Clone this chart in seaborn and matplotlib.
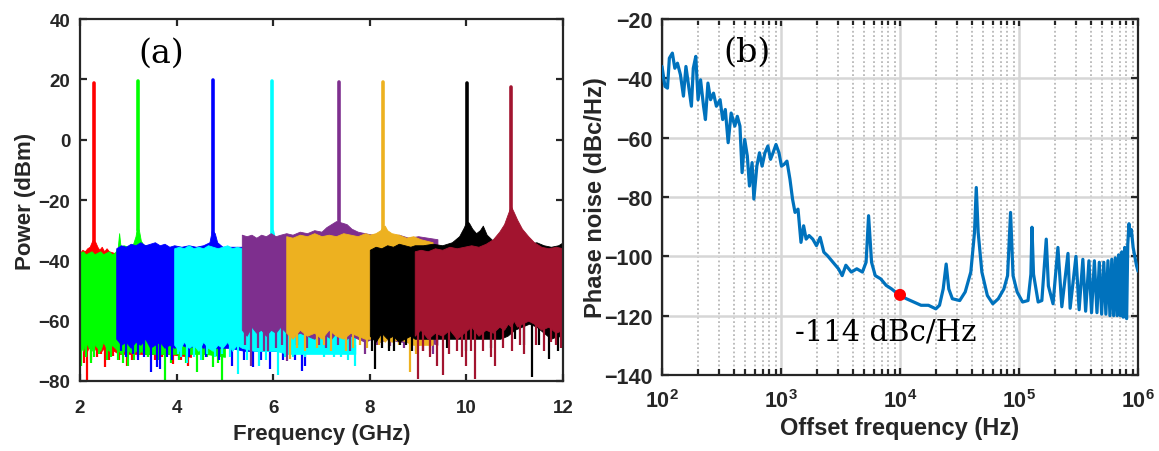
import numpy as np
import pandas as pd
import matplotlib
matplotlib.use("Agg")
import matplotlib.pyplot as plt
import seaborn as sns
from matplotlib.ticker import FixedLocator, FixedFormatter, NullFormatter

# ---------------- data: panel (a) ----------------
SERIES_COLORS = ["#FF0000", "#00FF00", "#0000FF", "#00FFFF",
                 "#7E2F8E", "#EDB120", "#000000", "#A2142F"]

PEAK_FREQ = [2.28, 3.20, 4.76, 5.98, 7.36, 8.28, 10.02, 10.92]
PEAK_TOP = [18.8, 19.3, 19.9, 19.5, 19.0, 19.0, 18.8, 17.6]
PEAK_BASE = [-34, -30, -31, -31, -28, -30, -28, -24]

red_f = [2.00, 2.05, 2.10, 2.15, 2.20, 2.24, 2.27, 2.29, 2.32, 2.36, 2.40, 2.45, 2.50, 2.55, 2.60, 2.70, 2.80, 3.00, 3.40, 3.80, 4.30]
red_hi = [-37.5, -36.5, -37, -36, -35.5, -34, -33, -33.5, -34, -35.5, -36.5, -35.5, -37, -36, -37, -37.5, -37.5, -37.5, -38, -38, -38]
red_lo = [-66, -69, -67, -70, -68, -69, -68, -70, -69, -70, -68, -70, -69, -71, -70, -70, -71, -71, -71, -71, -72]
red_dip_f = [2.03, 2.09, 2.14, 2.22, 2.35, 2.44, 2.52, 2.60, 2.69, 2.80, 2.97, 3.08, 3.21, 3.40, 3.55, 3.70, 3.93, 4.10, 4.24]
red_dip_y = [-70, -74, -80, -73, -72, -71, -75.5, -73, -71.6, -73, -75, -73, -72, -72, -73, -72, -74.4, -73, -75]

green_f = [2.00, 2.06, 2.12, 2.18, 2.24, 2.30, 2.36, 2.42, 2.48, 2.54, 2.60, 2.66, 2.72, 2.78, 2.81, 2.84, 2.90, 3.00, 3.10, 3.15, 3.18, 3.22, 3.26, 3.32, 3.50, 3.80, 4.20, 4.60, 5.00]
green_hi = [-37.5, -37, -38, -37.5, -37, -38, -37.5, -37, -38, -37.5, -37, -38, -37.5, -36, -31, -35.5, -35, -35.5, -34.5, -32, -29, -30, -33.5, -35, -35, -36, -36, -36.5, -37]
green_lo = [-68, -70, -67, -69, -70, -68, -69, -70, -67, -69, -70, -68, -69, -70, -70, -71, -70, -70, -71, -70, -70, -71, -70, -71, -71, -71, -71, -71, -72]
green_dip_f = [2.03, 2.12, 2.22, 2.30, 2.40, 2.55, 2.65, 2.78, 2.90, 3.00, 3.12, 3.40, 3.62, 3.76, 3.88, 4.05, 4.20, 4.42, 4.55, 4.62, 4.76, 4.86, 4.95]
green_dip_y = [-75, -72, -74, -72, -71, -73, -72, -73, -74, -75, -73, -72, -73, -80, -74, -73, -74, -77, -73, -72, -75.5, -74, -80]

blue_f = [2.75, 2.85, 2.95, 3.05, 3.15, 3.25, 3.35, 3.45, 3.55, 3.65, 3.75, 3.85, 3.95, 4.10, 4.25, 4.40, 4.55, 4.68, 4.73, 4.79, 4.84, 4.95, 5.10, 5.40, 6.00, 6.70]
blue_hi = [-36, -35, -35.5, -34.5, -35, -34, -35, -34.5, -34, -35, -34.5, -35.5, -35, -35.5, -35, -35.5, -35, -34, -30, -31, -34, -35.5, -35.5, -35.5, -35, -35]
blue_lo = [-66, -68, -67, -69, -67, -68, -66, -69, -68, -67, -69, -68, -69, -68, -69, -68, -69, -68, -68, -69, -69, -69, -69, -70, -70, -70]
blue_dip_f = [2.85, 2.95, 3.10, 3.20, 3.33, 3.48, 3.59, 3.66, 3.80, 3.90, 4.25, 4.60, 4.88, 5.14, 5.40, 5.59, 5.75, 5.93, 6.20, 6.45, 6.59, 6.65]
blue_dip_y = [-70, -72, -71, -73, -72, -77, -75.5, -76, -72, -73, -72, -72, -73, -75, -73, -75.5, -73, -76, -73, -73, -76.6, -75]

cyan_f = [3.95, 4.05, 4.15, 4.25, 4.35, 4.45, 4.55, 4.65, 4.75, 4.85, 4.95, 5.05, 5.15, 5.25, 5.35, 5.60, 5.92, 5.96, 6.00, 6.05, 6.30, 7.00, 7.70]
cyan_hi = [-36, -35.5, -36, -35, -36, -35.5, -36, -35, -35.5, -36, -35.5, -35, -36, -35.5, -36, -35.5, -33, -29.5, -30, -34, -35, -35, -35.5]
cyan_lo = [-68, -70, -67, -69, -68, -70, -67, -69, -70, -68, -69, -67, -70, -68, -69, -70, -70, -70, -70, -70, -71, -71, -71]
cyan_dip_f = [4.02, 4.10, 4.22, 4.35, 4.50, 4.62, 4.80, 4.95, 5.10, 5.28, 5.45, 5.70, 5.85, 6.10, 6.25, 6.40, 6.66, 6.85, 7.05, 7.25, 7.40, 7.55, 7.69]
cyan_dip_y = [-71, -72, -74, -72, -73, -71, -72, -71, -72, -77.7, -73, -75, -73, -78, -72, -72, -72, -70, -72, -72, -72, -73, -75]

purple_f = [5.35, 5.45, 5.55, 5.65, 5.75, 5.85, 5.95, 6.05, 6.15, 6.27, 6.40, 6.55, 6.70, 6.85, 7.00, 7.10, 7.20, 7.30, 7.42, 7.52, 7.62, 7.75, 7.90, 8.05, 8.20, 8.40, 8.60, 8.80, 9.00, 9.20, 9.40]
purple_hi = [-31.5, -32, -31.5, -32.5, -31.5, -32, -31, -32, -31.5, -31, -31.5, -30.5, -31, -30, -30.5, -29, -28, -27, -27.5, -28, -29.5, -30.5, -31, -31.5, -31, -32, -31.5, -32.5, -32, -32.5, -33]
purple_lo = [-63, -65, -62, -64, -63, -65, -63, -64, -62, -64, -65, -64, -65, -66, -64, -65, -66, -64, -65, -66, -65, -66, -67, -66, -67, -66, -67, -67, -68, -67, -68]
purple_dip_f = [5.42, 5.55, 5.68, 5.80, 5.90, 6.05, 6.18, 6.28, 6.50, 6.70, 6.95, 7.10, 7.35, 7.60, 7.90, 8.15, 8.42, 8.70, 8.95, 9.10, 9.30]
purple_dip_y = [-68, -75, -69, -70, -70, -69, -68, -73.3, -68, -69, -68, -69, -68, -70, -71, -68, -68.3, -69, -70, -70, -71]

orange_f = [6.27, 6.40, 6.55, 6.70, 6.85, 7.00, 7.15, 7.30, 7.45, 7.60, 7.75, 7.90, 8.00, 8.12, 8.22, 8.26, 8.31, 8.36, 8.45, 8.60, 8.75, 8.90, 9.05, 9.30]
orange_hi = [-32, -32.5, -31.5, -32, -31, -32, -31.5, -32, -31, -31.5, -32, -31, -31.5, -31, -30, -29, -28.5, -30, -31, -31.5, -32.5, -32, -33, -34]
orange_lo = [-64, -66, -63, -65, -64, -66, -63, -65, -66, -64, -65, -66, -66, -65, -67, -66, -67, -66, -67, -66, -67, -68, -68, -68]
orange_dip_f = [6.35, 6.50, 6.65, 6.90, 7.05, 7.20, 7.50, 7.65, 7.80, 7.95, 8.20, 8.40, 8.60, 8.83, 8.95, 9.10, 9.25]
orange_dip_y = [-72.7, -69, -70, -69, -68, -70, -70, -69, -68, -69, -68, -69, -68, -77.1, -71, -68, -70]

black_f = [8.00, 8.12, 8.24, 8.36, 8.48, 8.60, 8.72, 8.84, 8.93, 9.10, 9.30, 9.50, 9.70, 9.85, 9.95, 10.00, 10.05, 10.12, 10.20, 10.28, 10.34, 10.42, 10.55, 10.70, 10.85, 11.00, 11.15, 11.30, 11.45, 11.60, 11.75, 11.90, 12.00]
black_hi = [-36.5, -35.5, -36, -35, -35.5, -34.5, -35, -35.5, -35, -35, -34.5, -35, -34, -32, -29, -27, -27.5, -29.5, -31, -30, -28.5, -31.5, -33.5, -34, -34.5, -33.5, -34, -34.5, -34, -35, -35.5, -35, -34]
black_lo = [-65, -67, -64, -66, -65, -67, -66, -65, -66, -66, -66, -66, -66, -66, -66, -66, -66, -66, -66, -66, -66, -66, -66, -66, -65, -63, -62, -61, -62, -64, -66, -65, -66]
black_dip_f = [8.05, 8.11, 8.25, 8.40, 8.50, 8.62, 8.75, 8.88, 9.60, 10.00, 10.50, 11.00, 11.20, 11.35, 11.50, 11.70, 11.90]
black_dip_y = [-70, -76, -69, -70, -70, -68, -68, -70, -69, -70, -69, -66, -68, -78.8, -68, -72.7, -70]

darkred_f = [8.93, 9.05, 9.20, 9.35, 9.50, 9.65, 9.80, 9.95, 10.10, 10.25, 10.40, 10.55, 10.68, 10.78, 10.86, 10.92, 10.98, 11.05, 11.15, 11.28, 11.40, 11.55, 11.70, 11.85, 12.00]
darkred_hi = [-37, -36.5, -37, -36, -36.5, -35.5, -36, -35.5, -35, -35.5, -34.5, -33, -30.5, -28, -24.5, -22, -24, -26.5, -29.5, -32, -34, -35.5, -36, -35.5, -36]
darkred_lo = [-65, -63, -66, -64, -65, -63, -66, -64, -62, -65, -63, -64, -62, -63, -61, -62, -60, -62, -61, -60, -61, -63, -62, -64, -63]
darkred_dip_f = [9.00, 9.10, 9.25, 9.40, 9.52, 9.65, 9.80, 9.90, 10.00, 10.10, 10.18, 10.35, 10.50, 10.60, 10.75, 10.95, 11.10, 11.20, 11.45, 11.60, 11.75, 11.85, 11.95]
darkred_dip_y = [-79.3, -70, -72, -75, -78, -71, -70, -72, -75, -70, -79.3, -70, -72, -75, -69, -70, -68, -71, -68, -70, -67, -68, -69]

A_XTICKS = [2, 4, 6, 8, 10, 12]
A_YTICKS = [-80, -60, -40, -20, 0, 20, 40]

# ---------------- data: panel (b) ----------------
pn_freq = [100, 105.9, 111.2, 115.3, 122.2, 128.2, 134.9, 142.9, 151.4, 158.9,
           166.7, 176.6, 183.2, 192.3, 200.9, 210.9, 223.4, 231.7, 243.2, 255.9,
           271.0, 286.4, 307.6, 323.6, 340.4, 359.7, 381.1, 409.3, 429.5, 451.9,
           471.0, 495.5, 521.2, 543.3, 571.5, 591.6, 626.6, 659.2, 693.4, 732.8,
           776.2, 816.6, 857.0, 907.8, 961.6, 1009, 1062, 1122, 1189, 1250,
           1312, 1390, 1472, 1549, 1626, 1722, 1849, 1986, 2133, 2291,
           2460, 2735, 3041, 3266, 3508, 3899, 4335, 4831, 5188, 5445,
           5768, 6194, 6887, 7656, 8511, 9817, 11324, 13062, 15031, 17338,
           19999, 21478, 23067, 24434, 25704, 27542, 31769, 35318, 39355, 42267,
           43752, 45394, 48753, 54200, 60256, 66988, 74645, 80168, 84918, 89125,
           96383, 107152, 119124, 125893, 128529, 132434, 144877, 155597, 169434, 176604,
           193197, 212324, 229000, 258000, 269000, 301000, 320000, 344000, 363000, 387000,
           407000, 430000, 452000, 473000, 495000, 516000, 537000, 559000, 581000, 602000,
           624000, 645000, 668000, 688000, 710000, 731000, 750000, 774000, 791000, 803000,
           820000, 840000, 860000, 880000, 910000, 940000, 970000, 1000000]
pn_dbc = [-36, -42.7, -43.3, -33.2, -31.5, -36.6, -34.9, -38.8, -46, -36,
          -42, -49.4, -36.6, -32.6, -47.2, -40.5, -49.4, -53.9, -41.6, -47.2,
          -45, -49.4, -47.2, -53.9, -50.5, -61.7, -51.7, -56.1, -52.8, -56.1,
          -71.8, -60.6, -66.2, -76.3, -68.4, -80.7, -69.6, -65.1, -69.6, -65.1,
          -62.8, -67.3, -65.1, -62.3, -65.1, -69.6, -69.0, -67.9, -74, -80.7,
          -85.2, -84.1, -95.3, -89.7, -94.2, -93, -94.2, -96.4, -93.6, -98.6,
          -99.8, -102, -104.2, -106.5, -103, -105.3, -104.2, -105.3, -102, -86.3,
          -102, -106.5, -107.6, -109.8, -111, -113, -114.3, -115.4, -116.5, -116.5,
          -117.7, -116.5, -111, -102.6, -111, -114.3, -114.9, -112, -105.3, -92,
          -76.8, -92, -105.3, -113.2, -116, -114.3, -111, -106.5, -85.2, -106.5,
          -112, -115.4, -114.9, -106, -90.2, -106, -115.4, -114.9, -94.2, -110,
          -116, -97, -117, -99, -117.5, -100, -118, -101, -118.5, -101.5,
          -119, -101.5, -119, -102, -119.5, -102, -119.5, -101.5, -120, -101,
          -120, -100.5, -120, -99.5, -120, -98.5, -120.5, -97, -120.5, -121,
          -96, -89, -93, -91, -97, -100, -103, -105]

MARK_FREQ = [1e4]
MARK_DBC = [-113]
MARK_TEXT = "-114 dBc/Hz"

B_XTICKS = [1e2, 1e3, 1e4, 1e5, 1e6]
B_XTICK_LABELS = [r"$\mathbf{10^{2}}$", r"$\mathbf{10^{3}}$", r"$\mathbf{10^{4}}$",
                  r"$\mathbf{10^{5}}$", r"$\mathbf{10^{6}}$"]
B_YTICKS = [-140, -120, -100, -80, -60, -40, -20]

# ---------------- style ----------------
sns.set_theme(style="ticks")
plt.rcParams["font.family"] = ["Liberation Sans", "DejaVu Sans"]
plt.rcParams["font.weight"] = "bold"
plt.rcParams["mathtext.fontset"] = "custom"
plt.rcParams["mathtext.rm"] = "Liberation Sans:bold"
plt.rcParams["mathtext.bf"] = "Liberation Sans:bold"
plt.rcParams["axes.linewidth"] = 1.6
plt.rcParams["axes.edgecolor"] = "#262626"

TXT = "#262626"

fig = plt.figure(figsize=(11.59, 4.52), dpi=100)
fig.patch.set_facecolor("white")
axA = fig.add_axes([80 / 1159, 1 - 382 / 452, (563 - 80) / 1159, (382 - 20) / 452])
axB = fig.add_axes([662 / 1159, 1 - 376 / 452, (1138 - 662) / 1159, (376 - 20) / 452])

# ---------------- panel (a) ----------------
floors = [
    (red_f, red_hi, red_lo, red_dip_f, red_dip_y),
    (green_f, green_hi, green_lo, green_dip_f, green_dip_y),
    (blue_f, blue_hi, blue_lo, blue_dip_f, blue_dip_y),
    (cyan_f, cyan_hi, cyan_lo, cyan_dip_f, cyan_dip_y),
    (purple_f, purple_hi, purple_lo, purple_dip_f, purple_dip_y),
    (orange_f, orange_hi, orange_lo, orange_dip_f, orange_dip_y),
    (black_f, black_hi, black_lo, black_dip_f, black_dip_y),
    (darkred_f, darkred_hi, darkred_lo, darkred_dip_f, darkred_dip_y),
]

for i, (fl, c) in enumerate(zip(floors, SERIES_COLORS)):
    f, hi, lo, df, dy = fl
    z = 2 + i
    axA.fill_between(f, lo, hi, color=c, lw=0.6, edgecolor=c, zorder=z)
    top_of_dip = np.interp(df, f, lo) + 3
    axA.vlines(df, dy, top_of_dip, color=c, lw=1.6, zorder=z)
    sns.lineplot(x=[PEAK_FREQ[i], PEAK_FREQ[i]], y=[PEAK_BASE[i], PEAK_TOP[i]],
                 ax=axA, color=c, lw=2.6, estimator=None, sort=False,
                 zorder=z + 0.5, legend=False)

axA.set_xlim(2, 12)
axA.set_ylim(-80, 40)
axA.set_xticks(A_XTICKS)
axA.set_yticks(A_YTICKS)
axA.tick_params(direction="in", top=True, right=True, length=5, width=1.6,
                labelsize=13.5, colors=TXT, labelcolor=TXT)
axA.tick_params(axis="y", pad=7)
axA.tick_params(axis="x", pad=13)
for lab in axA.get_xticklabels() + axA.get_yticklabels():
    lab.set_fontweight("bold")
axA.set_xlabel("Frequency (GHz)", fontsize=16, fontweight="bold", color=TXT, labelpad=5)
axA.set_ylabel("Power (dBm)", fontsize=16, fontweight="bold", color=TXT, labelpad=2)
axA.text(3.69, 28.7, "(a)", fontsize=24, family="DejaVu Serif", fontweight="normal",
         color="black", ha="center", va="center", zorder=20)
for s in axA.spines.values():
    s.set_zorder(30)

# ---------------- panel (b) ----------------
axB.set_axisbelow(True)
sns.lineplot(x=pn_freq, y=pn_dbc, ax=axB, color="#0072BD", lw=2.3,
             estimator=None, sort=False, zorder=3, legend=False)
sns.scatterplot(x=MARK_FREQ, y=MARK_DBC, ax=axB, color="#FF0000", s=75,
                edgecolor="none", zorder=5, legend=False)
axB.set_xscale("log")
axB.set_xlim(1e2, 1e6)
axB.set_ylim(-140, -20)
axB.xaxis.set_major_locator(FixedLocator(B_XTICKS))
axB.xaxis.set_major_formatter(FixedFormatter(B_XTICK_LABELS))
minors = [m * d for d in [1e2, 1e3, 1e4, 1e5] for m in range(2, 10)]
axB.xaxis.set_minor_locator(FixedLocator(minors))
axB.xaxis.set_minor_formatter(NullFormatter())
axB.set_yticks(B_YTICKS)
axB.tick_params(which="both", direction="in", top=True, right=True, width=1.6,
                colors=TXT, labelcolor=TXT)
axB.tick_params(which="major", length=5, labelsize=15.5)
axB.tick_params(which="minor", length=4)
axB.tick_params(axis="y", pad=7)
axB.tick_params(axis="x", pad=10)
for lab in axB.get_yticklabels():
    lab.set_fontweight("bold")
axB.grid(which="major", axis="both", color="#d6d6d6", lw=1.8, ls="-")
axB.grid(which="minor", axis="x", color="#b8b8b8", lw=1.3, ls=(0, (1.0, 1.4)))
axB.set_xlabel("Offset frequency (Hz)", fontsize=17, fontweight="bold", color=TXT, labelpad=3)
axB.set_ylabel("Phase noise (dBc/Hz)", fontsize=17, fontweight="bold", color=TXT, labelpad=-2)
axB.text(513, -31, "(b)", fontsize=24, family="DejaVu Serif", fontweight="normal",
         color="black", ha="center", va="center", zorder=20)
axB.text(7586, -125.5, MARK_TEXT, fontsize=21, family="DejaVu Serif", fontweight="normal",
         color="black", ha="center", va="center", zorder=20)

fig.savefig("out.png", dpi=100, facecolor="white")
